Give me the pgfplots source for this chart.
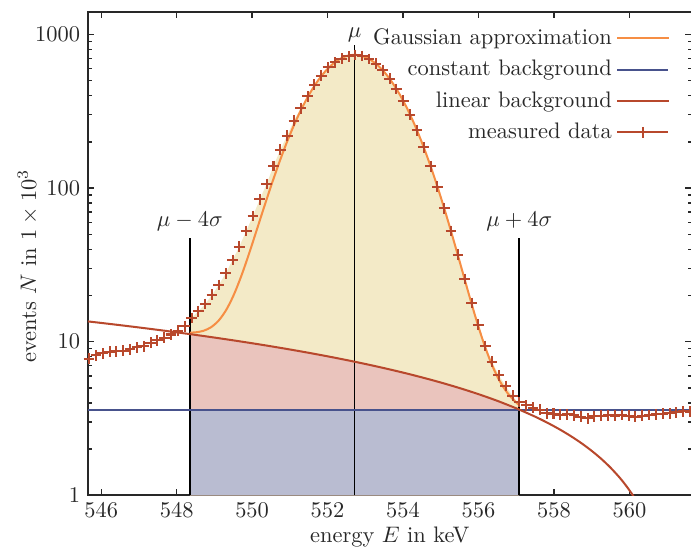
\documentclass[border=0pt]{standalone}
\usepackage{pgfplots}
\pgfplotsset{compat=1.18}
\usetikzlibrary{calc}

\definecolor{gaussorange}{RGB}{246,142,68}
\definecolor{constblue}{RGB}{72,82,140}
\definecolor{linred}{RGB}{184,72,44}
\definecolor{fillyellow}{RGB}{243,234,199}
\definecolor{fillred}{RGB}{234,196,189}
\definecolor{fillblue}{RGB}{185,188,209}
\definecolor{textgray}{RGB}{40,40,40}

\pgfplotsset{
  long legend line/.style={legend image code/.code={
    \draw[mark repeat=2, mark phase=2, ##1]
      plot coordinates {(0cm,0cm) (0.4cm,0cm) (0.8cm,0cm)};}},
  long legend markline/.style={legend image code/.code={
    \draw[##1, sharp plot, mark repeat=2, mark phase=2]
      plot coordinates {(0cm,0cm) (0.4cm,0cm) (0.8cm,0cm)};}},
}

% measured spectrum: energy in keV, events in units of 10^3
\pgfplotstableread{
E N
545.680 7.78
545.861 8.18
546.042 8.39
546.223 8.60
546.404 8.68
546.585 8.73
546.766 8.91
546.947 9.18
547.128 9.36
547.309 9.84
547.490 10.24
547.671 10.60
547.852 11.15
548.033 11.78
548.214 12.64
548.395 14.30
548.576 15.80
548.757 17.60
548.938 20.20
549.119 23.40
549.300 27.90
549.481 34.00
549.662 41.60
549.843 52.60
550.024 65.90
550.205 84.70
550.386 106.4
550.567 139.5
550.748 177.4
550.929 219.9
551.110 275.0
551.291 331.6
551.472 395.0
551.653 471.0
551.834 539.0
552.015 610.0
552.196 658.0
552.377 695.0
552.558 722.0
552.739 736.0
552.920 724.0
553.101 693.0
553.282 645.0
553.463 584.0
553.644 515.0
553.825 442.0
554.006 370.0
554.187 301.0
554.368 238.0
554.549 184.0
554.730 139.0
554.911 102.0
555.092 74.0
555.273 52.5
555.454 36.8
555.635 25.6
555.816 17.9
555.997 12.9
556.178 9.40
556.359 7.40
556.540 6.05
556.721 5.15
556.902 4.45
557.083 4.05
557.264 3.85
557.445 3.72
557.626 3.62
557.807 3.42
557.988 3.40
558.169 3.36
558.350 3.38
558.531 3.33
558.712 3.25
558.893 3.18
559.074 3.27
559.255 3.30
559.436 3.32
559.617 3.30
559.798 3.34
559.979 3.30
560.160 3.26
560.341 3.31
560.522 3.34
560.703 3.37
560.884 3.40
561.065 3.43
561.246 3.47
561.427 3.52
561.608 3.50
}\measured

% peak region of the spectrum, closed down to the axis floor
\pgfplotstableread{
E N
548.350 1
548.350 13.90
548.395 14.30
548.576 15.80
548.757 17.60
548.938 20.20
549.119 23.40
549.300 27.90
549.481 34.00
549.662 41.60
549.843 52.60
550.024 65.90
550.205 84.70
550.386 106.4
550.567 139.5
550.748 177.4
550.929 219.9
551.110 275.0
551.291 331.6
551.472 395.0
551.653 471.0
551.834 539.0
552.015 610.0
552.196 658.0
552.377 695.0
552.558 722.0
552.739 736.0
552.920 724.0
553.101 693.0
553.282 645.0
553.463 584.0
553.644 515.0
553.825 442.0
554.006 370.0
554.187 301.0
554.368 238.0
554.549 184.0
554.730 139.0
554.911 102.0
555.092 74.0
555.273 52.5
555.454 36.8
555.635 25.6
555.816 17.9
555.997 12.9
556.178 9.40
556.359 7.40
556.540 6.05
556.721 5.15
556.902 4.45
557.080 3.90
557.080 1
}\peakarea

% Gaussian on top of the linear background, mu +- 4 sigma
\pgfplotstableread{
E N
548.350 11.465
548.515 11.523
548.715 11.794
548.915 12.447
549.115 13.753
549.315 16.131
549.515 20.21
549.715 26.85
549.915 37.20
550.115 52.68
550.315 74.89
550.515 105.4
550.715 145.8
550.915 196.9
551.115 258.6
551.315 329.8
551.515 407.8
551.715 488.5
551.915 566.4
552.115 635.7
552.315 690.5
552.515 725.5
552.715 737.4
552.915 725.1
553.115 689.8
553.315 634.7
553.515 565.0
553.715 486.7
553.915 405.7
554.115 327.4
554.315 255.8
554.515 193.8
554.715 142.3
554.915 101.6
555.115 70.71
555.315 48.16
555.515 32.33
555.715 21.63
555.915 14.64
556.115 10.22
556.315 7.489
556.515 5.835
556.715 4.834
556.915 4.215
557.080 3.870
}\gauss

% linear background
\pgfplotstableread{
E N
545.65 13.564
546.00 13.260
546.50 12.825
547.00 12.390
547.50 11.955
548.00 11.520
548.35 11.215
548.50 11.085
549.00 10.650
549.50 10.215
550.00 9.780
550.50 9.345
551.00 8.910
551.50 8.475
552.00 8.040
552.50 7.605
553.00 7.170
553.50 6.735
554.00 6.300
554.50 5.865
555.00 5.430
555.50 4.995
556.00 4.560
556.50 4.125
557.00 3.690
557.08 3.620
557.50 3.255
557.75 3.038
558.00 2.820
558.25 2.603
558.50 2.385
558.75 2.168
559.00 1.950
559.25 1.733
559.50 1.515
559.75 1.298
559.90 1.167
560.00 1.080
560.10 0.993
560.25 0.863
}\linbg

% linear background between the integration limits, closed to the floor
\pgfplotstableread{
E N
548.35 1
548.35 11.215
548.50 11.085
549.00 10.650
549.50 10.215
550.00 9.780
550.50 9.345
551.00 8.910
551.50 8.475
552.00 8.040
552.50 7.605
553.00 7.170
553.50 6.735
554.00 6.300
554.50 5.865
555.00 5.430
555.50 4.995
556.00 4.560
556.50 4.125
557.00 3.690
557.08 3.620
557.08 1
}\linarea

\begin{document}
\begin{tikzpicture}
\begin{axis}[
  scale only axis,
  width=269pt, height=215.4pt,
  xmin=545.65, xmax=561.65,
  ymode=log, ymin=1, ymax=1400,
  xtick={546,548,...,560},
  ytick={1,10,100,1000},
  log ticks with fixed point,
  /pgf/number format/1000 sep={},
  minor x tick num=0,
  tick align=inside,
  major tick length=2.8pt,
  minor tick length=1.6pt,
  every tick/.style={line width=0.6pt, textgray},
  axis line style={line width=0.9pt, textgray},
  tick label style={text=textgray},
  label style={text=textgray},
  xlabel={energy $E$ in keV},
  ylabel={events $N$ in $1\times10^{3}$},
  xlabel style={at={(axis description cs:0.5,-0.087)}, anchor=center},
  ylabel style={at={(axis description cs:-0.0995,0.475)}, anchor=center},
  legend plot pos=right,
  legend cell align=right,
  legend style={draw=none, fill=none, text=textgray,
    at={(0.975,0.985)}, anchor=north east, row sep=1.5pt},
  long legend line,
]
% shaded areas
\addplot[forget plot, draw=none, fill=fillyellow] table {\peakarea};
\addplot[forget plot, draw=none, fill=fillred] table {\linarea};
\addplot[forget plot, draw=none, fill=fillblue] coordinates
  {(548.35,1) (548.35,3.62) (557.08,3.62) (557.08,1)};

% integration limits and peak position
\addplot[forget plot, black, line width=0.85pt] coordinates {(548.35,1) (548.35,47)};
\addplot[forget plot, black, line width=0.85pt] coordinates {(552.715,1) (552.715,860)};
\addplot[forget plot, black, line width=0.85pt] coordinates {(557.08,1) (557.08,47)};
\node[anchor=south, text=textgray, inner sep=2pt] at (axis cs:548.35,49) {$\mu-4\sigma$};
\node[anchor=south, text=textgray, inner sep=1pt] at (axis cs:552.715,865) {$\mu$};
\node[anchor=south, text=textgray, inner sep=2pt] at (axis cs:557.08,49) {$\mu+4\sigma$};

% curves
\addplot[gaussorange, line width=0.9pt, smooth] table {\gauss};
\addlegendentry{Gaussian approximation}
\addplot[constblue, line width=0.9pt] coordinates {(545.65,3.62) (561.65,3.62)};
\addlegendentry{constant background}
\addplot[linred, line width=0.9pt, smooth] table {\linbg};
\addlegendentry{linear background}
\addplot[linred, only marks, mark=+, mark size=2.4pt, line width=0.9pt,
  long legend markline] table {\measured};
\addlegendentry{measured data}
\end{axis}
\pgfresetboundingbox
\path ($(current axis.south west)+(-39.2pt,-24.5pt)$)
  rectangle ($(current axis.north east)+(-0.3pt,5.35pt)$);
\end{tikzpicture}
\end{document}
